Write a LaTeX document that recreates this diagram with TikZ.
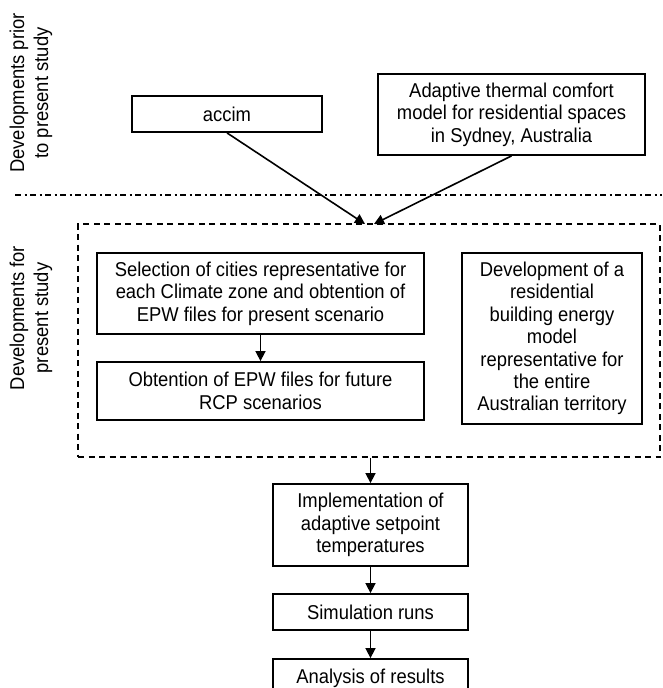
\documentclass[tikz,border=0pt]{standalone}
\usepackage{fontspec}
\setmainfont{Liberation Sans}[FakeStretch=0.92]
\usetikzlibrary{arrows.meta}
\begin{document}
\begin{tikzpicture}[x=1pt,y=-1pt,
  box/.style={draw,line width=1.8pt,rectangle,align=center,inner sep=0pt,
    font=\fontsize{20}{22.4}\selectfont},
  side/.style={rotate=90,align=center,font=\fontsize{20}{24}\selectfont},
  arr/.style={line width=1.6pt,-{Triangle[length=10pt,width=10pt]}},
  frame/.style={draw,line width=1.6pt,dash pattern=on 6pt off 4.5pt,rectangle,inner sep=0pt}]
\useasboundingbox (0,0) rectangle (662,688);
\clip (0,0) rectangle (662,688);
\node[side] (lab1) at (31,93) {Developments prior\\to present study};
\node[side] (lab2) at (31,318) {Developments for\\present study};
\coordinate (dl) at (15,195);
\coordinate (dr) at (662,195);
\draw[line width=1.6pt,dash pattern=on 6pt off 3.5pt on 2pt off 3.5pt] (dl) -- (dr);
\node[box,minimum width=190pt,minimum height=36pt] (accim) at (227,114) {accim};
\node[box,minimum width=267pt,minimum height=81pt] (adapt) at (511.5,114.5) {Adaptive thermal comfort\\model for residential spaces\\in Sydney, Australia};
\node[frame,minimum width=582pt,minimum height=233pt] (frame) at (369,340.5) {};
\node[box,minimum width=327pt,minimum height=81pt] (sel) at (260.5,293.5) {Selection of cities representative for\\each Climate zone and obtention of\\EPW files for present scenario};
\node[box,minimum width=327pt,minimum height=58pt] (obt) at (260.5,391) {Obtention of EPW files for future\\RCP scenarios};
\node[box,minimum width=180pt,minimum height=171pt] (dev) at (552,338.5) {Development of a\\residential\\building energy\\model\\representative for\\the entire\\Australian territory};
\node[box,minimum width=195pt,minimum height=82pt] (impl) at (370.5,525) {Implementation of\\adaptive setpoint\\temperatures};
\node[box,minimum width=195pt,minimum height=36pt] (sim) at (370.5,612) {Simulation runs};
\node[box,minimum width=195pt,minimum height=38pt] (ana) at (370.5,678) {Analysis of results};
\coordinate (t1) at (365,224);
\coordinate (t2) at (374,224);
\draw[arr] (accim.south) -- (t1);
\draw[arr] (adapt.south) -- (t2);
\draw[arr] (sel.south) -- (obt.north);
\draw[arr] (frame.south -| impl.north) -- (impl.north);
\draw[arr] (impl.south) -- (sim.north);
\draw[arr] (sim.south) -- (ana.north);
\end{tikzpicture}
\end{document}
